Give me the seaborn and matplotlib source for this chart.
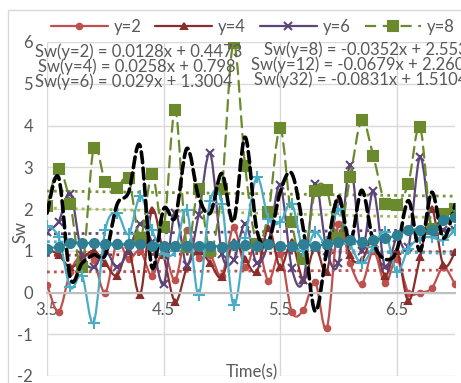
import numpy as np
import pandas as pd
import matplotlib
matplotlib.use("Agg")
import matplotlib.pyplot as plt
import matplotlib.ticker as ticker
from matplotlib.lines import Line2D
from matplotlib.path import Path
from matplotlib.patches import PathPatch
import seaborn as sns

# sampled times (s)
time = [3.5, 3.6, 3.7, 3.8, 3.9, 4.0, 4.1, 4.2, 4.3, 4.4, 4.5, 4.6,
        4.7, 4.8, 4.9, 5.0, 5.1, 5.2, 5.3, 5.4, 5.5, 5.6, 5.7, 5.8,
        5.9, 6.0, 6.1, 6.2, 6.3, 6.4, 6.5, 6.6, 6.7, 6.8, 6.9, 7.0]

sw_y2 = [0.19, -0.46, 0.5, 0.9, 0.77, 0.0, 1.2, 0.8, 1.0, 0.4, 1.0, 0.3,
         1.5, 0.82, 0.9, 0.4, 1.56, 0.6, 1.2, 0.28, 0.93, -0.46, -0.42, 0.24,
         -0.86, 1.65, 0.7, 0.2, 1.0, 0.22, 0.8, 0.0, 0.0, 0.1, 0.6, 0.2]
sw_y4 = [1.05, 0.9, 0.6, 0.8, 1.0, 0.7, 0.4, 1.0, -0.05, 1.97, 0.9, -0.22,
         0.6, 1.0, 0.7, 0.36, 1.2, 0.8, 0.5, 1.55, 0.6, 1.2, 0.3, 1.1,
         0.5, 2.2, 0.9, 0.77, 1.3, 0.4, 1.0, -0.2, 0.84, 2.0, 0.65, 0.96]
sw_y6 = [1.45, 1.7, 2.37, 0.9, 0.6, 1.0, 0.6, 1.0, 1.65, 1.2, 0.2, 1.9,
         0.65, 1.85, 3.33, 0.93, 0.77, 1.65, 0.7, 1.2, 2.57, 0.58, 0.3, 2.6,
         1.0, 0.7, 3.05, 1.0, 2.42, 0.6, 1.3, 1.08, 3.24, 1.49, 1.49, 1.5]
sw_y8 = [2.07, 2.97, 2.13, 0.6, 3.45, 2.64, 2.5, 2.74, 1.3, 2.85, 1.56, 4.37,
         1.1, 2.47, 1.0, 2.49, 5.97, 3.02, 1.17, 1.92, 3.93, 1.68, 0.8, 2.42,
         2.45, 1.3, 2.76, 4.12, 3.26, 2.13, 2.1, 2.61, 3.96, 1.51, 1.89, 1.99]
sw_y10 = [1.6, 1.32, 0.12, 0.4, -0.72, 1.5, 1.9, 1.4, 2.3, 1.5, 0.93, 1.0,
          1.97, -0.05, 2.2, 2.13, -0.3, 1.3, 2.76, 1.77, 1.68, 2.13, 1.0, 1.44,
          1.2, 2.0, 1.17, 0.7, 1.08, 1.44, 0.5, 1.05, 1.3, 1.32, 1.25, 1.5]
sw_y12 = [1.9, 2.75, 0.35, 0.7, 0.9, 0.9, 2.1, 2.4, 3.5, 0.6, 2.0, 1.8,
          3.45, 2.3, 1.9, 2.85, 1.7, 3.72, 1.5, 1.2, 2.4, 2.85, 1.5, -0.45,
          1.0, 2.3, 1.2, 2.45, 1.2, 0.8, 1.0, 2.2, 1.0, 2.4, 1.3, 2.1]
sw_y32 = [1.05, 1.1, 1.18, 1.18, 1.18, 1.15, 1.15, 1.15, 1.15, 1.12, 1.12, 1.12,
          1.12, 1.12, 1.12, 1.1, 1.13, 1.13, 1.12, 1.15, 1.12, 1.12, 1.15, 1.12,
          1.15, 1.2, 1.25, 1.2, 1.25, 1.3, 1.37, 1.49, 1.49, 1.49, 1.73, 1.8]

# linear trend lines as printed on the chart
trend_slope = [0.0128, 0.0258, 0.029, -0.0352, -0.0679, -0.0831]
trend_icept = [0.4473, 0.798, 1.3004, 2.553, 2.2605, 1.5104]
trend_colors = ["#C0504D", "#943634", "#604A7B", "#77933C", "#9BBB59", "#4BACC6"]


def smooth_path(xs, ys):
    # Excel-style smoothed line: cubic Bezier through every point
    p = np.column_stack([xs, ys]).astype(float)
    n = len(p)
    verts, codes = [p[0]], [Path.MOVETO]
    for i in range(n - 1):
        p0, p1 = p[max(i - 1, 0)], p[i]
        p2, p3 = p[i + 1], p[min(i + 2, n - 1)]
        verts += [p1 + (p2 - p0) / 6, p2 - (p3 - p1) / 6, p2]
        codes += [Path.CURVE4] * 3
    return Path(verts, codes)


sns.set_style("white")
plt.rcParams['font.family'] = ['Lato', 'DejaVu Sans']
gray = "#595959"
fs = 12

fig = plt.figure(figsize=(4.61, 3.83), dpi=100)
ax = fig.add_axes([47/461, 1-376/383, 408/461, 334/383])

series = [
    ("y=2", sw_y2, "#C0504D", "o", 4, 1.6, "-"),
    ("y=4", sw_y4, "#8B2D2B", "^", 5, 1.6, "-"),
    ("y=6", sw_y6, "#5C4677", "x", 6, 1.6, "-"),
    ("y=8", sw_y8, "#6B8A2E", "s", 6.5, 1.6, (0, (5, 3))),
    ("y=10", sw_y10, "#4BACC6", "+", 8, 1.6, "-"),
    ("y=12", sw_y12, "#000000", None, 0, 2.6, (0, (3, 1.5))),
    ("y=32", sw_y32, "#2E7F93", "o", 6.5, 1.6, "-"),
]
handles = []
for k, (name, vals, col, mk, ms, lw, ls) in enumerate(series):
    z = 2 + 0.1 * k
    ax.add_patch(PathPatch(smooth_path(time, vals), fill=False, edgecolor=col,
                           linewidth=lw, linestyle=ls, zorder=z,
                           capstyle="round", joinstyle="round"))
    if mk:
        sns.lineplot(x=time, y=vals, ax=ax, color=col, linestyle="none",
                     marker=mk, markersize=ms, markeredgecolor=col,
                     markeredgewidth=1.5, sort=False, zorder=z + 0.05)
    handles.append(Line2D([], [], color=col, linewidth=lw, linestyle=ls,
                          marker=mk, markersize=ms, markeredgecolor=col,
                          markeredgewidth=1.5, label=name))

t = np.array([time[0], time[-1]])
for s, b, col in zip(trend_slope, trend_icept, trend_colors):
    ax.plot(t, s*t + b, color=col, linestyle=(0, (1, 1.5)), linewidth=2,
            zorder=1.5)

ax.set_xlim(3.5, 7.0)
ax.set_ylim(-2, 6)
ax.xaxis.set_major_locator(ticker.FixedLocator([3.5, 4.5, 5.5, 6.5]))
ax.yaxis.set_major_locator(ticker.MultipleLocator(1))
ax.xaxis.set_major_formatter(ticker.FormatStrFormatter('%.1f'))
ax.yaxis.set_major_formatter(ticker.FormatStrFormatter('%d'))
ax.grid(True, color="#D9D9D9", linewidth=1)
ax.set_axisbelow(True)
for sp in ["top", "right", "left"]:
    ax.spines[sp].set_visible(False)
ax.spines["bottom"].set_position(("data", 0))
ax.spines["bottom"].set_color("#BFBFBF")
ax.spines["bottom"].set_linewidth(1.5)
ax.tick_params(axis="both", length=0, labelsize=fs, labelcolor=gray)
ax.tick_params(axis="x", pad=7)
ax.tick_params(axis="y", pad=10)
ax.set_xlabel("")
ax.set_ylabel("")

fig.text(20/461, 1-232/383, "Sw", rotation=90, ha="center", va="center",
         fontsize=fs, color=gray)
fig.text(252/461, 1-372/383, "Time(s)", ha="center", va="center",
         fontsize=fs, color=gray)

left_eq = ["Sw(y=2) = 0.0128x + 0.4473",
           "Sw(y=4) = 0.0258x + 0.798",
           "Sw(y=6) = 0.029x + 1.3004"]
right_eq = ["Sw(y=8) = -0.0352x + 2.553",
            "Sw(y=12) = -0.0679x + 2.2605",
            "Sw(y32) = -0.0831x + 1.5104"]
for txt, xx, yy in zip(left_eq, [35, 38, 35], [52, 67, 82]):
    fig.text(xx/461, 1-yy/383, txt, ha="left", va="center",
             fontsize=fs, color=gray, zorder=10)
for txt, xx, yy in zip(right_eq, [264, 251, 254], [50, 65, 80]):
    fig.text(xx/461, 1-yy/383, txt, ha="left", va="center",
             fontsize=fs, color=gray, zorder=10)

ax.legend(handles=handles, loc="center left", bbox_to_anchor=(0.078, 1-27/383),
          bbox_transform=fig.transFigure, ncol=7, frameon=False, fontsize=fs,
          handlelength=3.4, handletextpad=0.35, columnspacing=0.85,
          labelcolor=gray)

# chart-area border
fig.add_artist(Line2D([8/461, 1], [1-10/383, 1-10/383], transform=fig.transFigure,
                      color="#D9D9D9", linewidth=1))
fig.add_artist(Line2D([8/461, 8/461], [0, 1-10/383], transform=fig.transFigure,
                      color="#D9D9D9", linewidth=1))

fig.savefig("out.png", dpi=100)
